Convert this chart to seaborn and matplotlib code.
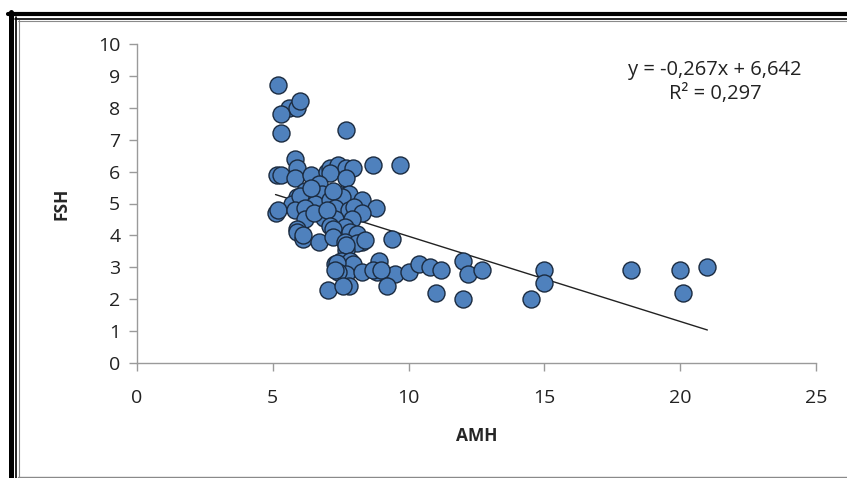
import matplotlib
matplotlib.use('Agg')
import matplotlib.pyplot as plt
import seaborn as sns
import pandas as pd
import numpy as np
from matplotlib.lines import Line2D

# AMH / FSH values
amh = [5.2, 5.6, 5.9, 6.0, 5.3, 5.3, 7.7,
       5.8, 5.9, 5.15, 5.3, 5.8, 6.4, 7.0, 7.1, 7.4, 7.7, 7.95, 7.1, 7.7, 8.7, 9.7,
       6.7, 6.2, 5.9, 6.8, 7.4, 7.8, 5.9, 5.7, 6.55, 7.1, 7.55, 8.3, 6.0, 7.2, 6.4,
       8.8, 5.1, 5.2, 5.8, 6.2, 6.9, 7.3, 7.8, 8.0, 8.3, 6.2, 6.9, 7.3, 7.9, 6.5, 7.0,
       7.1, 7.65, 5.9, 5.9, 6.1, 6.1, 6.7, 7.2, 7.2, 7.85, 8.1, 7.65, 8.3, 8.1, 8.4, 7.7, 9.4, 7.7,
       7.5, 7.3, 7.85, 8.9, 7.95, 7.35,
       7.7, 8.3, 7.4, 7.3, 9.5, 8.85, 10.0, 10.4, 10.8, 11.2, 12.0, 12.2, 12.7, 15.0, 18.2, 20.0, 21.0, 8.7, 9.0,
       7.05, 7.8, 7.6, 9.2, 11.0, 12.0, 14.5, 15.0, 20.1]
fsh = [8.7, 8.0, 8.0, 8.2, 7.8, 7.2, 7.3,
       6.4, 6.1, 5.9, 5.9, 5.8, 5.9, 6.0, 6.1, 6.2, 6.1, 6.1, 5.95, 5.8, 6.2, 6.2,
       5.6, 5.4, 5.2, 5.3, 5.3, 5.3, 4.95, 5.0, 5.0, 5.1, 5.2, 5.1, 5.25, 5.4, 5.5,
       4.85, 4.7, 4.8, 4.8, 4.85, 4.7, 4.85, 4.8, 4.9, 4.7, 4.5, 4.55, 4.5, 4.5, 4.7, 4.8,
       4.3, 4.25, 4.2, 4.1, 3.9, 4.0, 3.8, 4.2, 3.95, 4.1, 4.05, 3.8, 3.8, 3.75, 3.85, 3.55, 3.9, 3.7,
       3.2, 3.1, 3.2, 3.2, 3.1, 3.15,
       2.8, 2.85, 2.85, 2.9, 2.8, 2.85, 2.85, 3.1, 3.0, 2.9, 3.2, 2.8, 2.9, 2.9, 2.9, 2.9, 3.0, 2.9, 2.9,
       2.3, 2.4, 2.4, 2.4, 2.2, 2.0, 2.0, 2.5, 2.2]

trend_slope = -0.267
trend_intercept = 6.642
equation_lines = ['y = -0,267x + 6,642', 'R² = 0,297']

df = pd.DataFrame({'AMH': amh, 'FSH': fsh})

sns.set_style('white')
plt.rcParams['font.family'] = ['Open Sans', 'DejaVu Sans']

W, H = 847, 478
fig = plt.figure(figsize=(W / 100, H / 100), dpi=100)
ax = fig.add_axes([137 / W, 1 - 363 / H, (816 - 137) / W, (363 - 44) / H])

sns.scatterplot(data=df, x='AMH', y='FSH', ax=ax, s=150, color='#4F81BD',
                edgecolor='#1b2b40', linewidth=1.0, zorder=3)

# linear trendline
xs = np.array([min(amh), max(amh)])
ax.plot(xs, trend_slope * xs + trend_intercept, color='#222222', lw=1.0, zorder=2)

ax.set_xlim(0, 25)
ax.set_ylim(0, 10)
ax.set_xticks(range(0, 26, 5))
ax.set_yticks(range(0, 11))
for side in ['top', 'right']:
    ax.spines[side].set_visible(False)
for side in ['left', 'bottom']:
    ax.spines[side].set_color('#9a9a9a')
    ax.spines[side].set_linewidth(1.0)
ax.tick_params(axis='both', direction='out', length=6, width=1, color='#9a9a9a',
               labelsize=14, labelcolor='#222222', left=True, bottom=True)
ax.tick_params(axis='x', pad=13)
ax.tick_params(axis='y', pad=6)

ax.set_xlabel('AMH', fontsize=12.5, fontweight='bold', labelpad=14)
ax.set_ylabel('FSH', fontsize=12.5, fontweight='bold', labelpad=20)

fig.text(715 / W, 1 - 70 / H, equation_lines[0], ha='center', va='center', fontsize=14.5, color='#222222')
fig.text(715 / W, 1 - 94 / H, equation_lines[1], ha='center', va='center', fontsize=14.5, color='#222222')

# outer chart frame
def hline(y, x0, x1, lw, c):
    fig.add_artist(Line2D([x0 / W, x1 / W], [1 - y / H, 1 - y / H], lw=lw, color=c))

def vline(x, y0, y1, lw, c):
    fig.add_artist(Line2D([x / W, x / W], [1 - y0 / H, 1 - y1 / H], lw=lw, color=c))

hline(14, 8, W, 3.0, 'black')
hline(18.5, 15, W, 1.2, 'black')
hline(20.5, 18, W, 0.8, '#8a8a8a')
vline(10.5, 12, H, 3.6, 'black')
vline(16, 17, H, 1.2, 'black')
vline(18.5, 20, H, 0.8, '#8a8a8a')
hline(476.5, 18, W, 1.0, '#8a8a8a')

fig.savefig('out.png', dpi=100)
